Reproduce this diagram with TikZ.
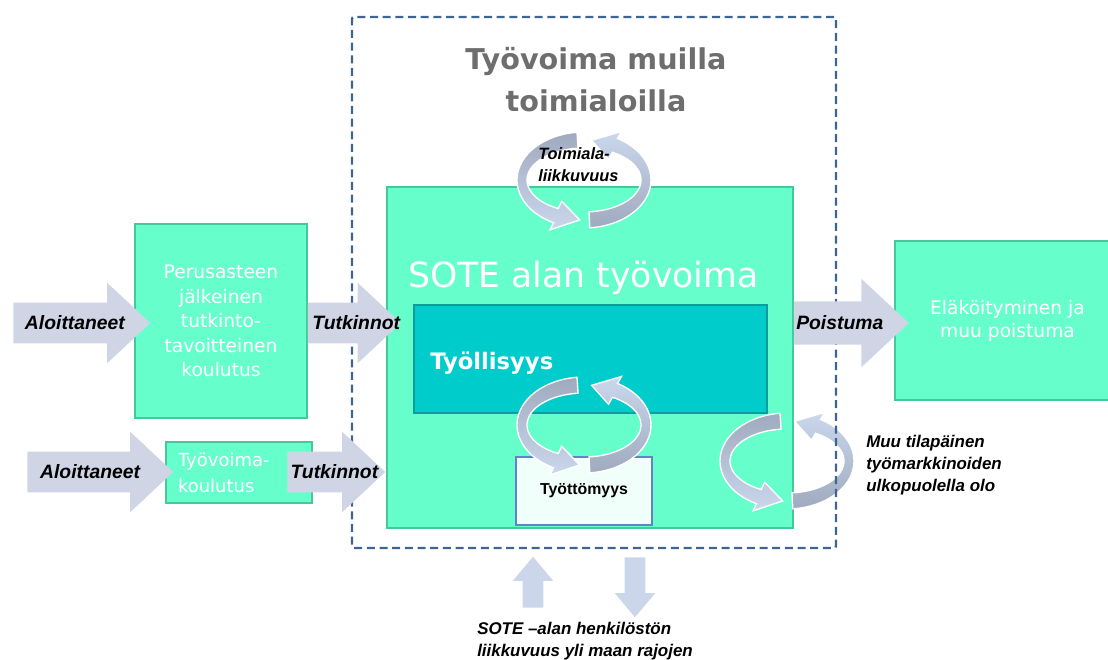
\documentclass[tikz,border=0pt]{standalone}
\usepackage{fontspec}
\setmainfont{DejaVu Sans}
\newfontfamily\arialFont{Liberation Sans}
\usetikzlibrary{shapes.arrows,positioning,calc}

\definecolor{boxGreen}{RGB}{102,255,204}
\definecolor{boxGreenLine}{RGB}{70,200,154}
\definecolor{employTeal}{RGB}{0,204,204}
\definecolor{employLine}{RGB}{14,156,156}
\definecolor{unempFill}{RGB}{240,255,250}
\definecolor{unempLine}{RGB}{100,130,200}
\definecolor{frameBlue}{RGB}{61,100,148}
\definecolor{titleGrey}{RGB}{110,110,110}
\definecolor{flowGrey}{RGB}{207,213,229}
\definecolor{moveBlue}{RGB}{204,214,234}
\definecolor{cycDark}{RGB}{160,170,190}
\definecolor{cycLight}{RGB}{202,215,236}

\tikzset{
  greenBox/.style={draw=boxGreenLine, line width=0.8pt, fill=boxGreen, text=white, inner sep=0pt},
  flowArrow/.style={single arrow, fill=flowGrey, inner sep=0pt, inner ysep=15pt,
    single arrow head extend=15pt, single arrow tip angle=86, anchor=tail},
  moveArrow/.style={single arrow, fill=moveBlue, inner sep=0pt, inner ysep=7.5pt,
    single arrow head extend=7.5pt, single arrow tip angle=80, anchor=tail},
  flowLabel/.style={font=\arialFont\bfseries\itshape\fontsize{14.5}{17}\selectfont, inner sep=0pt},
  noteLabel/.style={font=\arialFont\bfseries\itshape\fontsize{12.7}{16.5}\selectfont, align=left, inner sep=0pt},
  cycLeft/.style={draw=white, line width=1pt, top color=cycDark, bottom color=cycLight},
  cycRight/.style={draw=white, line width=1pt, top color=cycLight, bottom color=cycDark}
}

% two half-ring arrows round a centre
\newcommand{\cycleArrows}[2]{
  \path[cycLeft]
    plot[domain=96:243, samples=30] ({#1+67*cos(\x)},{#2-48*sin(\x)})
    -- ({#1+75*cos(243)},{#2-56*sin(243)})
    -- ({#1+62*cos(266)},{#2-40*sin(266)})
    -- ({#1+49*cos(243)},{#2-24*sin(243)})
    -- plot[domain=243:96, samples=30] ({#1+57*cos(\x)},{#2-32*sin(\x)})
    -- cycle;
  \path[cycRight]
    plot[domain=-85:60, samples=30] ({#1+67*cos(\x)},{#2-48*sin(\x)})
    -- ({#1+75*cos(60)},{#2-56*sin(60)})
    -- ({#1+62*cos(83)},{#2-40*sin(83)})
    -- ({#1+49*cos(60)},{#2-24*sin(60)})
    -- plot[domain=60:-85, samples=30] ({#1+57*cos(\x)},{#2-32*sin(\x)})
    -- cycle;
}

\begin{document}
\begin{tikzpicture}[x=0.75pt, y=-0.75pt]
  \useasboundingbox (0,0) rectangle (1108,660);

  \node (perus)
        [greenBox, minimum width=129pt, minimum height=145.5pt, align=center,
         font=\fontsize{14}{18.4}\selectfont]
        at (221,321)
        {Perusasteen\\jälkeinen\\tutkinto-\\tavoitteinen\\koulutus};
  \node (koulutus)
        [greenBox, minimum width=109.5pt, minimum height=45.75pt, inner xsep=9pt,
         text width=91.5pt, align=left, font=\fontsize{13.5}{19.5}\selectfont]
        at (239,472.5)
        {Työvoima-\\koulutus};
  \node (elake)
        [greenBox, minimum width=168.75pt, minimum height=119.25pt, align=center,
         font=\fontsize{14}{17.3}\selectfont]
        at (1007.5,320.5)
        {Eläköityminen ja\\muu poistuma};
  \node (sote)
        [greenBox, minimum width=304.5pt, minimum height=255.75pt]
        at (590,357.5) {};
  \node (tyollisyys)
        [draw=employLine, line width=0.8pt, fill=employTeal,
         minimum width=264.75pt, minimum height=81pt]
        at (590.5,359) {};
  \node (tyottomyys)
        [draw=unempLine, line width=1pt, fill=unempFill, minimum width=102pt, minimum height=51pt,
         font=\arialFont\bfseries\fontsize{11.9}{14}\selectfont]
        at (584,491) {Työttömyys};

  \node (soteTitle)
        [anchor=base west, inner sep=0pt, text=white, font=\fontsize{26}{30}\selectfont]
        at (408,287) {SOTE alan työvoima};
  \node (tyollisyysLabel)
        [anchor=base west, inner sep=0pt, text=white, font=\bfseries\fontsize{17}{20}\selectfont]
        at (430,369) {Työllisyys};
  \node (frameTitle)
        [align=center, inner sep=0pt, text=titleGrey, font=\bfseries\fontsize{21.5}{31.5}\selectfont]
        at (596,80) {Työvoima muilla\\toimialoilla};

  \cycleArrows{584}{180}
  \cycleArrows{584}{425}
  \cycleArrows{787}{461}

  \node (toimialaLabel)
        [noteLabel, anchor=west, font=\arialFont\bfseries\itshape\fontsize{12.3}{16.5}\selectfont]
        at (538,165) {Toimiala-\\liikkuvuus};

  \node (otherSectors)
        [draw=frameBlue, line width=1.8pt, dash pattern=on 6pt off 3.5pt, rounded corners=1.5pt,
         minimum width=363pt, minimum height=398.25pt, inner sep=0pt]
        at (594,282.5) {};

  \node (aloitA) [flowArrow, minimum height=102.75pt] at (13,323) {};
  \node (tutkA) [flowArrow, minimum height=69.75pt] at (perus.east |- aloitA.tail) {};
  \node (aloitB) [flowArrow, minimum height=109.5pt] at (27,472) {};
  \node (tutkB) [flowArrow, minimum height=73.5pt] at (287,472) {};
  \node (poist) [flowArrow, minimum height=86.25pt, inner ysep=16pt, single arrow head extend=17pt]
        at (sote.east |- aloitA.tail) {};

  \node (aloitALabel) [flowLabel] at ($(aloitA.tail)!0.45!(aloitA.tip)$) {Aloittaneet};
  \node (tutkALabel) [flowLabel] at ($(tutkA.tail)!0.52!(tutkA.tip)$) {Tutkinnot};
  \node (aloitBLabel) [flowLabel] at ($(aloitB.tail)!0.43!(aloitB.tip)$) {Aloittaneet};
  \node (tutkBLabel) [flowLabel] at ($(tutkB.tail)!0.48!(tutkB.tip)$) {Tutkinnot};
  \node (poistLabel) [flowLabel] at ($(poist.tail)!0.40!(poist.tip)$) {Poistuma};

  \node (inMove) [moveArrow, rotate=90, minimum height=38.25pt] at (533,608) {};
  \node (outMove) [moveArrow, rotate=-90, minimum height=45pt] at (635,557) {};
  \node (moveLabel) [noteLabel, anchor=north west] at (477,622)
        {SOTE –alan henkilöstön\\liikkuvuus yli maan rajojen};

  \node (muuLabel) [noteLabel, anchor=west] at (866,465)
        {Muu tilapäinen\\työmarkkinoiden\\ulkopuolella olo};
\end{tikzpicture}
\end{document}
